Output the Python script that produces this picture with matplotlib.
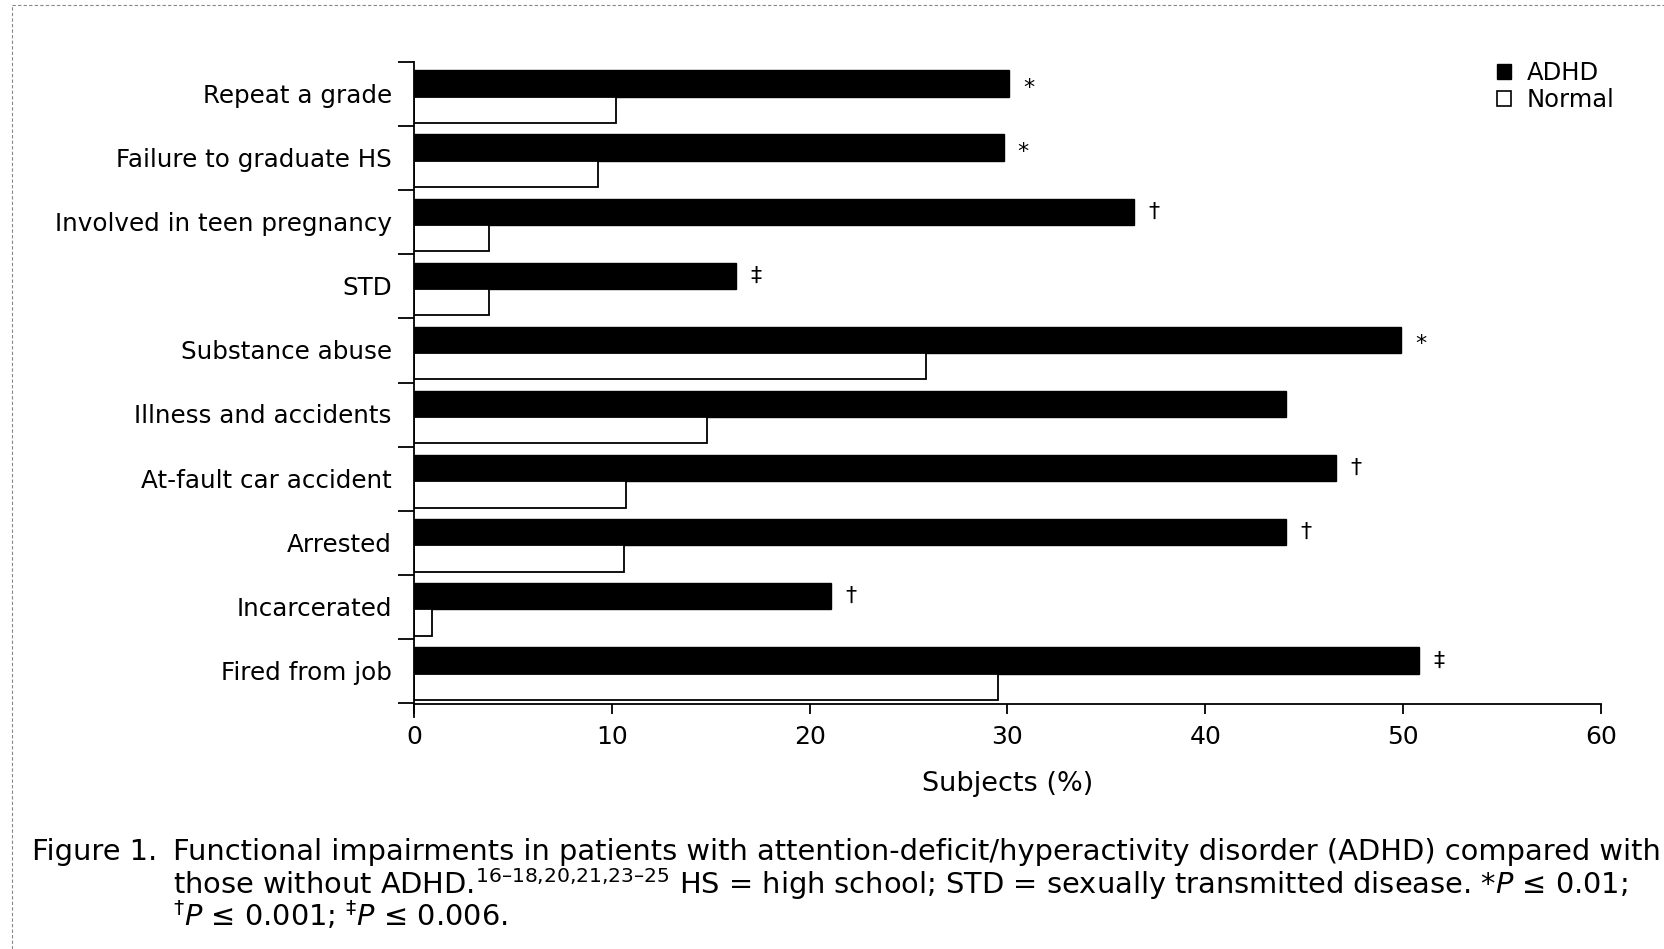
import matplotlib
matplotlib.use('Agg')
import matplotlib.pyplot as plt
import numpy as np
from matplotlib.lines import Line2D
from matplotlib.patches import Patch

categories = ['Repeat a grade', 'Failure to graduate HS', 'Involved in teen pregnancy',
              'STD', 'Substance abuse', 'Illness and accidents', 'At-fault car accident',
              'Arrested', 'Incarcerated', 'Fired from job']
adhd = [30.1, 29.8, 36.4, 16.3, 49.9, 44.1, 46.6, 44.1, 21.1, 50.8]
normal = [10.2, 9.3, 3.8, 3.8, 25.9, 14.8, 10.7, 10.6, 0.9, 29.5]
marks = ['*', '*', '\u2020', '\u2021', '*', '', '\u2020', '\u2020', '\u2020', '\u2021']
xticks = [0, 10, 20, 30, 40, 50, 60]

plt.rcParams['font.family'] = 'DejaVu Sans'
plt.rcParams['mathtext.fontset'] = 'custom'
plt.rcParams['mathtext.rm'] = 'DejaVu Sans'
plt.rcParams['mathtext.it'] = 'DejaVu Sans:italic'

W, H = 1665, 949
fig = plt.figure(figsize=(W / 100, H / 100), dpi=100)
ax = fig.add_axes([414 / W, 1 - 716.5 / H, 1187 / W, (716.5 - 62) / H])

y = np.arange(len(categories))
h = 0.41
ax.barh(y - h / 2, adhd, height=h, color='black', edgecolor='black', linewidth=1)
ax.barh(y + h / 2, normal, height=h, color='white', edgecolor='black', linewidth=1.3)

for i, m in enumerate(marks):
    if m:
        dy = 0.07 if m == '*' else 0.0
        ax.text(adhd[i] + 1.0, i - h / 2 + dy, m, ha='center', va='center', fontsize=16)

ax.set_xlim(0, 60)
ax.set_ylim(9.67, -0.54)
for s in ['top', 'right']:
    ax.spines[s].set_visible(False)
ax.spines['bottom'].set_position(('data', 9.48))
ax.spines['bottom'].set_bounds(0, 60)
ax.spines['left'].set_linewidth(1.3)
ax.spines['bottom'].set_linewidth(1.3)

ax.set_xticks(xticks)
ax.tick_params(axis='x', direction='out', length=7, width=1.3, pad=8, labelsize=18)
ax.set_yticks(y - 0.05)
ax.set_yticklabels(categories)
ax.tick_params(axis='y', which='major', length=0, pad=16, labelsize=17.7)
ax.set_yticks(np.arange(len(categories) + 1) - 0.54, minor=True)
ax.tick_params(axis='y', which='minor', direction='out', length=11.5, width=1.3)

ax.set_xlabel('Subjects (%)', fontsize=19.5, labelpad=16)

handles = [Patch(facecolor='black', edgecolor='black', label='ADHD'),
           Patch(facecolor='white', edgecolor='black', linewidth=1.2, label='Normal')]
fig.legend(handles=handles, loc='upper left', bbox_to_anchor=(1497 / W, 1 - 61 / H),
           frameon=False, fontsize=17.5, handlelength=0.58, handleheight=0.58,
           handletextpad=0.65, labelspacing=0.12, borderpad=0, borderaxespad=0)

cap = 20.8
fig.text(32 / W, 1 - 860 / H, 'Figure 1.', va='baseline', fontsize=cap)
fig.text(173 / W, 1 - 860 / H,
         'Functional impairments in patients with attention-deficit/hyperactivity disorder (ADHD) compared with',
         va='baseline', fontsize=cap)
fig.text(173 / W, 1 - 894 / H,
         'those without ADHD.$^{16\u201318{,}20{,}21{,}23\u201325}$ HS = high school; STD = sexually transmitted disease. *$P$ \u2264 0.01;',
         va='baseline', fontsize=cap)
fig.text(173 / W, 1 - 926 / H, '$^{\u2020}$$P$ \u2264 0.001; $^{\u2021}$$P$ \u2264 0.006.',
         va='baseline', fontsize=cap)

# faint scan border
fig.add_artist(Line2D([12 / W, 1], [1 - 5 / H, 1 - 5 / H], color='#888888', lw=0.8, ls=(0, (3, 2))))
fig.add_artist(Line2D([12 / W, 12 / W], [0, 1 - 5 / H], color='#888888', lw=0.8, ls=(0, (3, 2))))

fig.savefig('out.png', dpi=100)
